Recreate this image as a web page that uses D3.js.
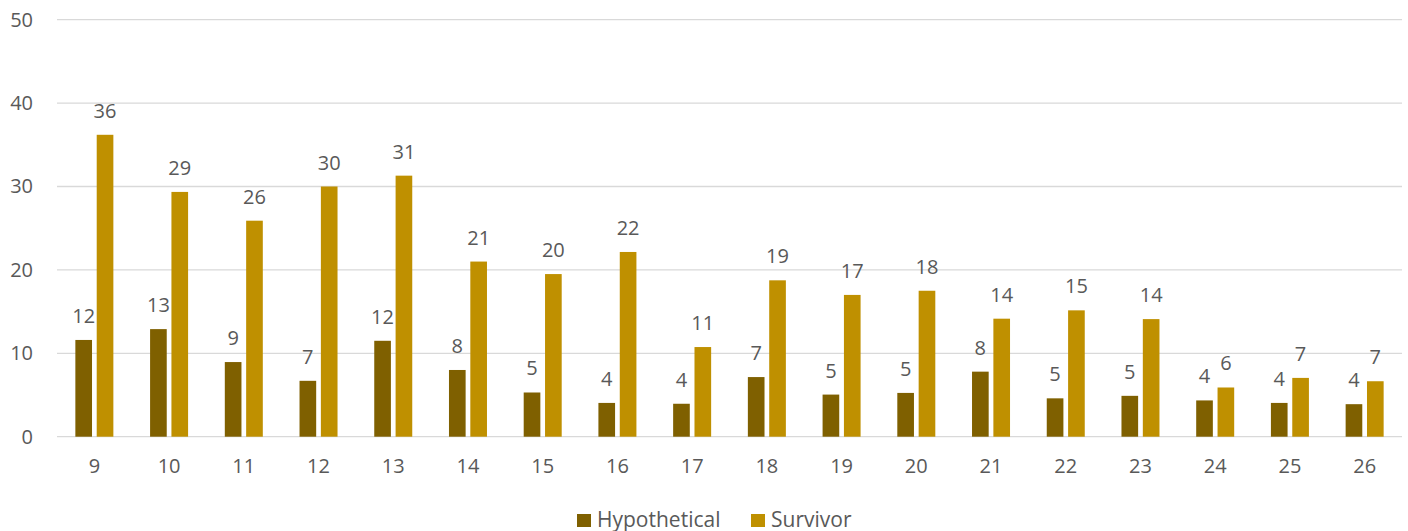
<!DOCTYPE html>
<html>
<head>
<meta charset="utf-8">
<script src="https://cdn.jsdelivr.net/npm/d3@7"></script>
<style>
  body { margin: 0; background: #fff; }
  text { font-family: "Open Sans", sans-serif; fill: #595959; }
</style>
</head>
<body>
<svg id="svg1"></svg>
<script>
var categories = ['9','10','11','12','13','14','15','16','17','18','19','20','21','22','23','24','25','26'];
var seriesNames = ['Hypothetical', 'Survivor'];
var hypothetical = [11.6, 12.9, 8.95, 6.7, 11.5, 8.0, 5.3, 4.05, 3.95, 7.15, 5.05, 5.25, 7.8, 4.6, 4.9, 4.35, 4.05, 3.9];
var survivor = [36.2, 29.35, 25.9, 30.0, 31.3, 21.0, 19.5, 22.15, 10.75, 18.75, 17.0, 17.5, 14.15, 15.15, 14.1, 5.9, 7.05, 6.65];
var yTicks = [0, 10, 20, 30, 40, 50];
var colors = ['#7f6000', '#bf9000'];

var width = 1408, height = 531;
var svg = d3.select('#svg1').attr('width', width).attr('height', height);

var plotLeft = 57, plotRight = 1402, plotTop = 19.7, plotBottom = 436.7;

var xScale = d3.scaleBand().domain(categories).range([plotLeft, plotRight]);
var xInner = d3.scaleBand().domain(seriesNames).range([0, xScale.bandwidth()])
    .paddingInner(0.22).paddingOuter(0.86);
var yScale = d3.scaleLinear().domain([0, 50]).range([plotBottom, plotTop]);

// gridlines
svg.append('g').selectAll('line').data(yTicks).enter().append('line')
    .attr('x1', plotLeft).attr('x2', plotRight)
    .attr('y1', function(d){ return yScale(d); })
    .attr('y2', function(d){ return yScale(d); })
    .attr('stroke', '#d9d9d9').attr('stroke-width', 1.3);

// y axis labels
var yAxis = d3.axisLeft(yScale).tickValues(yTicks).tickSize(0).tickPadding(0);
var yg = svg.append('g').attr('transform', 'translate(33,0)').call(yAxis);
yg.select('.domain').remove();
yg.selectAll('text').style('font-size', '20px').style('font-family', '"Open Sans", sans-serif')
    .attr('fill', '#595959');

// x axis labels
var xAxis = d3.axisBottom(xScale).tickSize(0).tickPadding(0);
var xg = svg.append('g').attr('transform', 'translate(0,' + (plotBottom + 22) + ')').call(xAxis);
xg.select('.domain').remove();
xg.selectAll('text').style('font-size', '20px').style('font-family', '"Open Sans", sans-serif')
    .attr('fill', '#595959');

var rows = categories.map(function(c, i){
    return {cat: c, vals: [hypothetical[i], survivor[i]]};
});

var groups = svg.append('g').selectAll('g').data(rows).enter().append('g')
    .attr('transform', function(d){ return 'translate(' + xScale(d.cat) + ',0)'; });

groups.selectAll('rect').data(function(d){
        return d.vals.map(function(v, j){ return {name: seriesNames[j], v: v, j: j}; });
    }).enter().append('rect')
    .attr('x', function(d){ return xInner(d.name); })
    .attr('y', function(d){ return yScale(d.v); })
    .attr('width', xInner.bandwidth())
    .attr('height', function(d){ return plotBottom - yScale(d.v); })
    .attr('fill', function(d){ return colors[d.j]; });

groups.selectAll('text.lbl').data(function(d){
        return d.vals.map(function(v, j){ return {name: seriesNames[j], v: v}; });
    }).enter().append('text')
    .attr('class', 'lbl')
    .attr('x', function(d){ return xInner(d.name) + xInner.bandwidth() / 2; })
    .attr('y', function(d){ return yScale(d.v) - 17; })
    .attr('text-anchor', 'middle')
    .style('font-size', '20px')
    .text(function(d){ return d3.format('.0f')(d.v); });

// legend
var legend = svg.append('g').attr('transform', 'translate(577,514)');
var lx = [0, 174];
seriesNames.forEach(function(s, i){
    legend.append('rect').attr('x', lx[i]).attr('y', 0).attr('width', 14).attr('height', 13)
        .attr('fill', colors[i]);
    legend.append('text').attr('x', lx[i] + 20).attr('y', 13)
        .style('font-size', '21px').text(s);
});
</script>
</body>
</html>
